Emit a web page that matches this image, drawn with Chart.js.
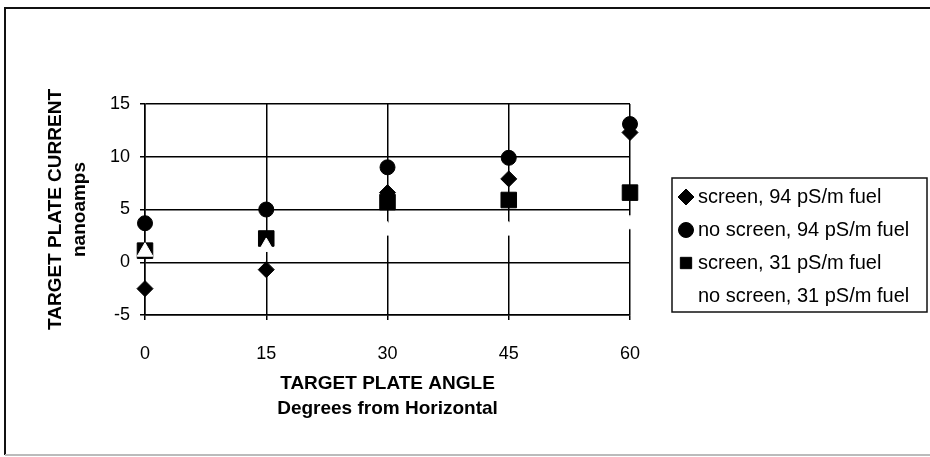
<!DOCTYPE html>
<html>
<head>
<meta charset="utf-8">
<title>Target plate current vs angle</title>
<script src="https://cdn.jsdelivr.net/npm/chart.js@4/dist/chart.umd.min.js"></script>
<style>
  html, body { margin: 0; padding: 0; background: #fff; }
  canvas { display: block; }
</style>
</head>
<body>
<canvas id="plateChart" width="930" height="457"></canvas>
<script>
// values
const angles = [0, 15, 30, 45, 60];
const screen94 = [-2.5, -0.7, 6.6, 7.9, 12.3];
const noScreen94 = [3.7, 5.0, 9.0, 9.9, 13.1];
const screen31 = [1.1, 2.25, 5.7, 5.9, 6.6];
const noScreen31 = [1.0, 1.45, 3.0, 3.0, 3.6];

const seriesLabels = [
  'screen, 94 pS/m fuel',
  'no screen, 94 pS/m fuel',
  'screen, 31 pS/m fuel',
  'no screen, 31 pS/m fuel'
];
const yTicks = [-5, 0, 5, 10, 15];
const xTicks = [0, 15, 30, 45, 60];

const FONT = "'Liberation Sans', Arial, Helvetica, sans-serif";

function toPoints(ys) {
  return angles.map((a, i) => ({ x: a, y: ys[i] }));
}

// outer frame of the figure
const framePlugin = {
  id: 'frame',
  beforeDraw(chart) {
    const ctx = chart.ctx;
    ctx.save();
    ctx.strokeStyle = '#111';
    ctx.lineWidth = 2;
    ctx.beginPath();
    ctx.moveTo(940, 8);
    ctx.lineTo(5, 8);
    ctx.lineTo(5, 455);
    ctx.stroke();
    ctx.strokeStyle = '#bbb';
    ctx.beginPath();
    ctx.moveTo(5, 455);
    ctx.lineTo(930, 455);
    ctx.stroke();
    ctx.restore();
  }
};

// boxed legend to the right of the plot
const boxLegend = {
  id: 'boxLegend',
  afterDraw(chart) {
    const ctx = chart.ctx;
    const box = { x: 672, y: 178, w: 255, h: 134 };
    ctx.save();
    ctx.strokeStyle = '#111';
    ctx.lineWidth = 1.5;
    ctx.strokeRect(box.x, box.y, box.w, box.h);
    ctx.font = '20px ' + FONT;
    ctx.textBaseline = 'middle';
    ctx.textAlign = 'left';
    chart.data.datasets.forEach((ds, i) => {
      const cy = box.y + 19 + i * 33;
      ctx.fillStyle = ds.backgroundColor;
      ctx.strokeStyle = ds.borderColor;
      ctx.lineWidth = 1;
      Chart.helpers.drawPoint(ctx, {
        pointStyle: ds.pointStyle,
        radius: Math.min(ds.pointRadius, 8),
        borderWidth: 1
      }, box.x + 14, cy);
      ctx.fillStyle = '#000';
      ctx.fillText(ds.label, box.x + 26, cy);
    });
    ctx.restore();
  }
};

const ctx = document.getElementById('plateChart').getContext('2d');

const datasets = [
  { label: seriesLabels[0], data: toPoints(screen94), pointStyle: 'rectRot', pointRadius: 8,
    backgroundColor: '#000', borderColor: '#000', order: 1 },
  { label: seriesLabels[1], data: toPoints(noScreen94), pointStyle: 'circle', pointRadius: 7.5,
    backgroundColor: '#000', borderColor: '#000', order: 1 },
  { label: seriesLabels[2], data: toPoints(screen31), pointStyle: 'rect', pointRadius: 11,
    backgroundColor: '#000', borderColor: '#000', order: 1 },
  { label: seriesLabels[3], data: toPoints(noScreen31), pointStyle: 'triangle', pointRadius: 9,
    backgroundColor: '#fff', borderColor: '#fff', order: 0 }
];
datasets.forEach(ds => {
  ds.showLine = false;
  ds.clip = false;
  ds.pointBorderWidth = 1;
  ds.pointHoverRadius = ds.pointRadius;
});

const plateChart = new Chart(ctx, {
  type: 'scatter',
  data: { datasets: datasets },
  options: {
    responsive: false,
    animation: false,
    layout: { padding: { left: 20, right: 300, top: 104, bottom: 36 } },
    plugins: {
      legend: { display: false },
      tooltip: { enabled: false }
    },
    scales: {
      x: {
        type: 'linear',
        min: 0,
        max: 60,
        afterBuildTicks(scale) { scale.ticks = xTicks.map(v => ({ value: v })); },
        afterFit(scale) { scale.height = 106; },
        grid: { color: '#000', lineWidth: 1.5, tickLength: 5, drawTicks: true },
        border: { color: '#000', width: 1.5 },
        ticks: { color: '#000', padding: 23, font: { family: FONT, size: 18 } },
        title: {
          display: true,
          text: ['TARGET PLATE ANGLE', 'Degrees from Horizontal'],
          color: '#000',
          font: { family: FONT, size: 19, weight: 'bold', lineHeight: 1.3 },
          padding: { top: 0, bottom: 0 }
        }
      },
      y: {
        type: 'linear',
        min: -5,
        max: 15,
        afterBuildTicks(scale) { scale.ticks = yTicks.map(v => ({ value: v })); },
        afterFit(scale) { scale.width = 125; },
        grid: { color: '#000', lineWidth: 1.5, tickLength: 5, drawTicks: true },
        border: { color: '#000', width: 1.5 },
        ticks: { color: '#000', padding: 10, font: { family: FONT, size: 18 } },
        title: {
          display: true,
          text: ['TARGET PLATE CURRENT', 'nanoamps'],
          color: '#000',
          font: { family: FONT, size: 19, weight: 'bold', lineHeight: 1.3 },
          padding: { top: 23, bottom: 0 }
        }
      }
    }
  },
  plugins: [framePlugin, boxLegend]
});
</script>
</body>
</html>
